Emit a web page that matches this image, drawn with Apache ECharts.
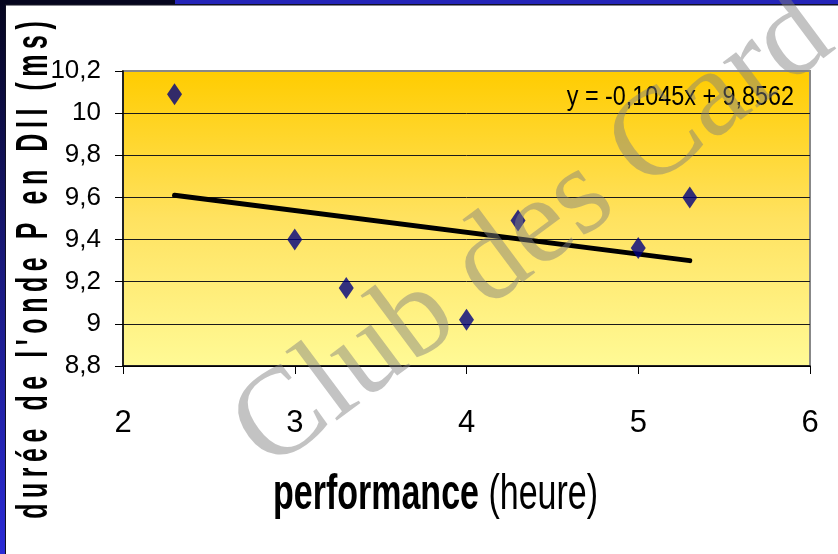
<!DOCTYPE html>
<html>
<head>
<meta charset="utf-8">
<script src="https://cdn.jsdelivr.net/npm/echarts@6/dist/echarts.min.js"></script>
<style>
html,body{margin:0;padding:0;background:#fff;}
#c{width:838px;height:554px;}
</style>
</head>
<body>
<div id="c"></div>
<script>
// Data
const perfHours = [2.3, 3.0, 3.3, 4.0, 4.3, 5.0, 5.3];
const pWaveMs = [10.09, 9.40, 9.17, 9.02, 9.49, 9.36, 9.60];
const trendX = [2.3, 5.3];
const trendY = [9.61, 9.30];
const xTickValues = [2, 3, 4, 5, 6];
const yTickValues = [8.8, 9.0, 9.2, 9.4, 9.6, 9.8, 10.0, 10.2];
const equationText = 'y = -0,1045x + 9,8562';
const yTitle = "durée de l'onde P en DII (ms)";
const xTitleBold = 'performance';
const xTitleRegular = ' (heure)';
const watermark = 'Club des Card';

const SANS = "'Liberation Sans',Arial,sans-serif";

const chart = echarts.init(document.getElementById('c'), null, {renderer: 'canvas'});

const scatterData = perfHours.map((x, i) => [x, pWaveMs[i]]);
const trendData = trendX.map((x, i) => [x, trendY[i]]);
// spaced-out y title as rich text: each glyph followed by a small tracking gap
const yTitleRich = yTitle.split('').map(ch => ch === ' ' ? '{l| }' : '{l|' + ch + '}').join('{s| }');

const option = {
  backgroundColor: '#ffffff',
  animation: false,
  grid: {
    left: 123, top: 71, right: 28, bottom: 188,
    show: true,
    borderColor: '#888888',
    borderWidth: 2,
    backgroundColor: new echarts.graphic.LinearGradient(0, 0, 0, 1, [
      {offset: 0, color: '#FFCC00'},
      {offset: 0.5, color: '#FFE260'},
      {offset: 1, color: '#FFFA96'}
    ])
  },
  xAxis: {
    type: 'value',
    min: xTickValues[0], max: xTickValues[xTickValues.length - 1], interval: 1,
    axisLine: {show: true, onZero: false, lineStyle: {color: '#000', width: 1.5}},
    axisTick: {show: true, inside: false, length: 8, lineStyle: {color: '#000'}},
    splitLine: {show: false},
    axisLabel: {
      color: '#000', fontFamily: SANS, fontSize: 31, margin: 42,
      formatter: v => String(v)
    }
  },
  yAxis: {
    type: 'value',
    min: yTickValues[0], max: yTickValues[yTickValues.length - 1], interval: 0.2,
    axisLine: {show: true, onZero: false, lineStyle: {color: '#000', width: 1.5}},
    axisTick: {show: true, inside: false, length: 8, lineStyle: {color: '#000'}},
    splitLine: {show: true, lineStyle: {color: ['#000', '#1a1a1a', '#1a1a1a', '#1a1a1a', '#1a1a1a', '#1a1a1a', '#1a1a1a', '#888'], width: 1}},
    axisLabel: {
      color: '#000', fontFamily: SANS, fontSize: 26, margin: 22, padding: [0, 0, 6, 0],
      formatter: v => String(Math.round(v * 10) / 10).replace('.', ',')
    }
  },
  series: [
    {
      type: 'line',
      data: trendData,
      symbol: 'none',
      lineStyle: {color: '#000', width: 5, cap: 'round'},
      z: 3
    },
    {
      type: 'scatter',
      data: scatterData,
      symbol: 'diamond',
      symbolSize: [15, 22],
      itemStyle: {color: '#000080'},
      z: 4
    }
  ],
  graphic: [
    // slide frame
    {type: 'rect', left: 0, top: 0, shape: {width: 838, height: 4}, style: {fill: '#05051e'}, z: 50},
    {type: 'rect', left: 175, top: 0, shape: {width: 663, height: 4}, style: {fill: '#2424b8'}, z: 51},
    {type: 'rect', left: 0, top: 4, shape: {width: 838, height: 1.5}, style: {fill: '#111122'}, z: 52},
    {type: 'rect', left: 0, top: 0, shape: {width: 5, height: 554},
      style: {fill: new echarts.graphic.LinearGradient(0, 0, 0, 1, [
        {offset: 0, color: '#05051e'}, {offset: 0.5, color: '#1a1a80'}, {offset: 1, color: '#2b2bd6'}])}, z: 53},
    {type: 'rect', left: 5, top: 4, shape: {width: 1, height: 550}, style: {fill: '#111122'}, z: 53},
    // equation
    {type: 'text', x: 794, y: 97, scaleX: 0.834, style: {text: equationText, font: '28px ' + SANS, fill: '#000', textAlign: 'right', textVerticalAlign: 'middle'}, z: 20},
    // y title
    {type: 'text', x: 35, y: 270, rotation: Math.PI / 2, scaleY: 1.75,
      style: {text: yTitleRich, textAlign: 'center', textVerticalAlign: 'middle',
        rich: {l: {font: 'bold 25px ' + SANS, fill: '#000'}, s: {font: '20px ' + SANS, fill: '#000'}}}, z: 20},
    // x title
    {type: 'text', x: 273, y: 495, scaleY: 1.45,
      style: {rich: {b: {font: 'bold 34px ' + SANS, fill: '#000'}, r: {font: '34px ' + SANS, fill: '#000'}},
        text: '{b|' + xTitleBold + '}{r|' + xTitleRegular + '}', textAlign: 'left', textVerticalAlign: 'middle'}, z: 20},
    // watermark
    {type: 'text', x: 286, y: 495, rotation: 0.64,
      style: {text: watermark, font: '124px "Liberation Serif","Times New Roman",serif', fill: 'rgba(128,128,128,0.47)', textAlign: 'left', textVerticalAlign: 'bottom'}, z: 100}
  ]
};
chart.setOption(option);
</script>
</body>
</html>
